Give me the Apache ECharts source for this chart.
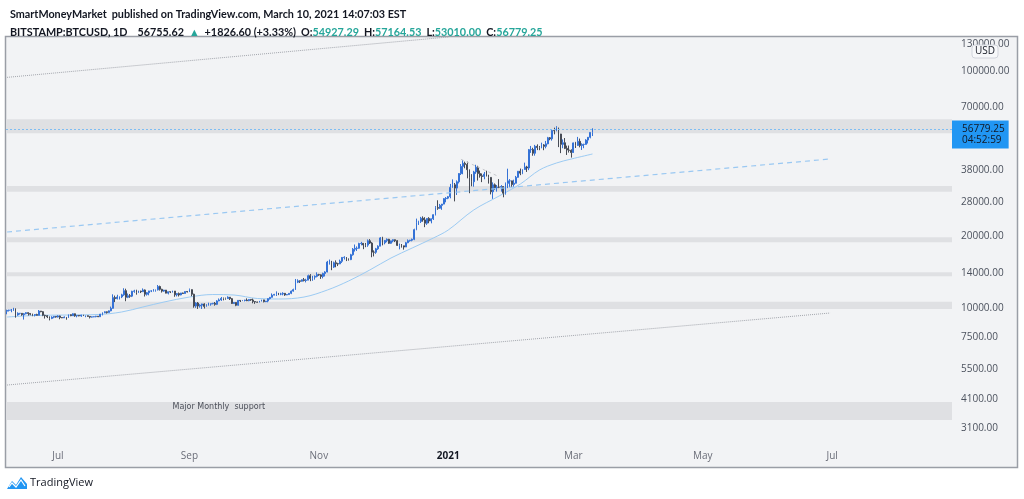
<!DOCTYPE html>
<html><head><meta charset="utf-8">
<script src="https://cdn.jsdelivr.net/npm/echarts/dist/echarts.min.js"></script>
<style>html,body{margin:0;padding:0;background:#fff}#c{width:1024px;height:499px}</style>
</head><body><div id="c"></div><script>
// ---------- DATA ----------
const startDate = '2020-06-07';
const axisDays = 446;          // time axis runs to 2021-08-26
const firstOpen = 9670;
const closes = [
 // Jun 7-30
 9750,9775,9780,9880,9320,9470,9470,9340,9430,9530,9460,9390,9300,9360,9290,9680,9620,9290,9250,9160,9010,9120,9190,9135,
 // Jul
 9230,9090,9060,9130,9080,9340,9250,9430,9240,9280,9230,9300,9240,9250,9190,9130,9150,9170,9210,9160,9390,9530,9610,9550,9700,9940,11030,10920,11100,11110,11330,
 // Aug
 11800,11070,11230,11190,11730,11770,11600,11750,11680,11880,11400,11570,11770,11770,11860,11900,12290,11960,11750,11870,11520,11680,11650,11760,11340,11470,11320,11540,11480,11710,11660,
 // Sep
 11920,11400,10170,10470,10170,10250,10370,10130,10240,10360,10400,10440,10330,10680,10790,10950,10940,10930,11080,10920,10420,10530,10240,10740,10690,10730,10770,10700,10840,10780,
 // Oct
 10620,10570,10550,10670,10790,10600,10670,10920,11060,11300,11380,11540,11420,11430,11500,11320,11360,11500,11750,11920,12820,12980,12930,13120,13030,13070,13650,13280,13460,13560,13800,
 // Nov
 13760,13550,13950,14150,15590,15590,14840,15480,15330,15300,15700,16300,16320,16070,15960,16730,17660,17800,17820,18660,18700,18400,18370,19160,18740,17160,17140,17720,18180,19700,
 // Dec
 18790,19220,19450,18700,19150,19360,19170,18320,18550,18250,18030,18800,19170,19270,19440,21350,22800,23120,23850,23470,22720,23810,23230,23730,24690,26450,26280,27030,27360,28860,28990,
 // Jan
 29410,32190,33000,31970,33980,36820,39470,40670,40240,38240,35540,34010,37390,39160,36830,36020,35790,36630,35890,35470,30850,33000,32100,32290,32260,32470,30430,33470,34300,34300,33110,
 // Feb
 33520,35500,37660,36970,38290,39250,38870,46450,46500,44850,48000,47400,47190,48620,47960,49140,52120,51600,55900,55890,57410,54080,48890,49680,47020,46280,46140,45160,
 // Mar 1-10
 49600,48400,50370,48360,48860,48880,50970,52380,54927,56779.25
];
const highs = [
 9800,9800,9880,9990,9940,9560,9490,9490,9500,9580,9560,9480,9440,9400,9430,9780,9690,9670,9340,9300,9190,9200,9230,9200,
 9290,9260,9120,9190,9140,9360,9370,9470,9450,9300,9290,9340,9340,9280,9270,9200,9180,9200,9240,9220,9420,9550,9650,9640,9730,10110,11390,11250,11340,11170,11450,
 12080,12030,11480,11420,11790,11900,11910,11800,11800,12060,11940,11640,11790,11850,11980,11930,12470,12390,12020,11890,11880,11700,11700,11800,11760,11530,11590,11550,11580,11720,11760,
 12050,11950,11460,10550,10570,10350,10400,10440,10350,10500,10400,10480,10570,10760,10940,11100,11040,11030,11170,11090,10990,10570,10540,10770,10770,10780,10800,10950,10860,10850,
 10920,10640,10600,10690,10800,10800,10680,10950,11100,11490,11440,11720,11550,11560,11620,11540,11400,11530,11820,12030,13220,13180,13030,13160,13350,13250,13790,13860,13630,13690,14100,
 13900,13830,14050,14250,15760,15970,15770,15650,15840,15460,15960,16350,16480,16330,16150,16880,17850,18480,18140,18800,18960,18740,18760,19410,19480,18910,17460,17880,18340,19860,
 19920,19300,19600,19520,19170,19420,19400,19290,18640,18560,18270,18950,19410,19340,19570,21550,23770,23280,24170,24290,24100,23830,24100,23780,24770,26840,28400,27400,27410,28990,29300,
 29620,33300,34800,33600,34450,36950,40370,41950,41350,41350,38300,36600,37800,40100,39700,37900,36850,37400,37850,36400,35600,33800,33450,32930,34880,32900,32560,33770,38600,34890,34330,
 34680,35980,37700,38650,38310,40940,39700,46750,48150,47310,48650,48900,48140,49700,49000,50550,52580,52500,56300,57500,58350,57500,54150,51300,52000,48300,48330,46580,
 49770,50100,52560,51730,49400,49200,51400,52400,54950,57164.53
];
const lows = [
 9380,9640,9570,9700,9080,9250,9350,9250,8910,9380,9260,9290,9210,9190,9270,9280,9570,9210,9000,9040,8840,8950,9030,9080,
 9090,8940,9040,9050,8900,9060,9210,9230,9160,9110,9200,9150,9220,9120,9170,9010,9090,9120,9110,9130,9150,9280,9480,9450,9530,9660,9910,10560,10840,10830,10980,
 11220,10650,10970,11010,11090,11560,11350,11530,11530,11660,11150,11250,11280,11640,11690,11690,11820,11810,11590,11670,11500,11380,11530,11590,11120,11160,11150,11280,11430,11460,11600,
 11640,11180,10000,9990,9880,10010,9880,9920,10110,10200,10200,10330,10200,10260,10650,10690,10740,10810,10890,10780,10370,10370,10150,10200,10570,10660,10630,10660,10650,10690,
 10440,10380,10500,10530,10620,10530,10560,10540,10830,11050,11280,11210,11300,11290,11280,11220,11300,11340,11410,11690,11900,12700,12720,12880,12910,12790,13070,12940,12990,13130,13430,
 13630,13230,13300,13550,14100,15200,14400,14710,14810,14990,15280,15450,15970,15730,15800,15880,16580,17260,17360,17750,18330,17660,18000,18070,18580,16330,16460,16880,17540,18180,
 18330,18510,18900,18580,18600,18880,18920,18220,17630,17930,17580,18030,18720,19000,19060,19280,21230,22350,22770,23060,21870,22350,22720,22700,23460,24500,25880,26120,25880,27320,27850,
 28700,28950,32020,28100,29900,33450,36300,36570,38750,35150,30420,32530,32400,36720,34400,35380,33880,34830,35800,33400,30070,28800,31400,30900,31950,30880,29240,30000,31960,32230,32300,
 32300,33420,35380,36250,36600,38200,37400,38060,45000,43780,43800,46250,46200,47050,46200,47050,48950,50900,50700,53900,55500,47600,44900,47100,46700,44100,45140,43000,
 45000,47200,48120,47500,46300,47100,48950,49300,51850,53010
];
// moving average
const maDates  = ['2020-06-07','2020-06-20','2020-07-05','2020-07-20','2020-07-31','2020-08-10','2020-08-20','2020-09-01','2020-09-12','2020-09-22','2020-10-03','2020-10-13','2020-10-25','2020-11-05','2020-11-15','2020-11-25','2020-12-05','2020-12-15','2020-12-25','2021-01-01','2021-01-13','2021-01-25','2021-02-04','2021-02-13','2021-02-21','2021-02-28','2021-03-10'];
const maValues = [9137,9271,9315,9361,9592,10068,10568,11093,11368,11313,10935,10882,11093,11876,12963,14424,16205,17862,19683,21277,25840,29606,33264,38107,40784,42405,44523];
const yTicks = [3100,4100,5500,7500,10000,14000,20000,28000,38000,70000,100000,130000];
const yMin = 2584, yMax = 138760;
const zones = [[54440,62370],[30860,32620],[18870,19820],[13570,14110],[9875,10600],[3360,4000]];
const zoneNote = {date:'2020-08-24', value:3811, text:'Major Monthly  support'};
const grayRays = [[['2020-06-07',93750],['2021-01-01',138760]], [['2020-06-07',4718],['2021-06-30',9497]]];
const blueRay = [['2020-06-07',20870],['2021-06-30',42410]];
const janLine = [['2021-01-07',42290],['2021-01-25',35700]];
const lastPrice = 56779.25, labelAnchor = 53810, countdown = '04:52:59';
const monthNames = ['Jan','Feb','Mar','Apr','May','Jun','Jul','Aug','Sep','Oct','Nov','Dec'];

// ---------- BUILD ----------
const cats = [];
const d0 = new Date(startDate + 'T00:00:00Z');
for (let i = 0; i < axisDays; i++) cats.push(new Date(d0.getTime() + i * 86400000).toISOString().slice(0, 10));
const ohlc = closes.map((c, i) => [i === 0 ? firstOpen : closes[i - 1], c, lows[i], highs[i]]);
const ma = cats.map(() => null);
maDates.forEach((d, i) => { ma[cats.indexOf(d)] = maValues[i]; });

const FONT = 'Open Sans';
const HFONT = 'Lato';
const HSIZE = 10.8;
const chart = echarts.init(document.getElementById('c'), null, {renderer: 'canvas'});
chart.setOption({
  animation: false,
  backgroundColor: '#ffffff',
  title: {
    left: 5, top: 1,
    text: '{b|SmartMoneyMarket} {n|published on TradingView.com, March 10, 2021 14:07:03 EST}\n' +
          '{b|BITSTAMP:BTCUSD, 1D}  {n|56755.62} {g|▲} {n|+1826.60 (+3.33%)} {b|O:}{g|54927.29} {b|H:}{g|57164.53} {b|L:}{g|53010.00} {b|C:}{g|56779.25}',
    textStyle: {
      rich: {
        b: {fontFamily: HFONT, fontSize: HSIZE, fontWeight: 'bold', color: '#131722', lineHeight: 15},
        n: {fontFamily: HFONT, fontSize: HSIZE, color: '#131722', lineHeight: 15},
        g: {fontFamily: HFONT, fontSize: HSIZE, color: '#26a69a', lineHeight: 15}
      }
    }
  },
  graphic: [
    {type: 'rect', z: -10, silent: true, shape: {x: 5.5, y: 36.5, width: 1012, height: 431},
     style: {fill: '#f2f3f5', stroke: '#9a9ea6', lineWidth: 1.5}},
    {type: 'rect', z: 100, shape: {x: 972, y: 45, width: 26, height: 13, r: 3},
     style: {fill: '#f7f8fa', stroke: '#d1d4dc', lineWidth: 1}},
    {type: 'text', z: 101, x: 985, y: 51.5, style: {text: 'USD', fontFamily: FONT, fontSize: 10, fill: '#131722', align: 'center', verticalAlign: 'middle'}},
    {type: 'polygon', shape: {points: [[7,489],[12,481],[16,485],[21,477],[27,484],[27,489]]}, style: {fill: '#2196f3'}},
    {type: 'polyline', shape: {points: [[9,487],[12,483],[16,487],[21,480],[25,486]]}, style: {stroke: '#ffffff', lineWidth: 1.2, fill: null}},
    {type: 'text', x: 30, y: 483, style: {text: 'TradingView', fontFamily: FONT, fontSize: 11, fill: '#131722', verticalAlign: 'middle'}}
  ],
  grid: {left: 6, right: 72, top: 37, bottom: 52},
  xAxis: {
    type: 'category', data: cats, boundaryGap: true,
    axisLine: {show: false}, axisTick: {show: false}, splitLine: {show: false},
    axisLabel: {
      margin: 4, color: '#6a6d78', fontFamily: FONT, fontSize: 10,
      interval: (i, v) => v.slice(8) === '01' && (parseInt(v.slice(5, 7), 10) % 2 === 1),
      formatter: v => { const m = parseInt(v.slice(5, 7), 10); return m === 1 ? '{y|' + v.slice(0, 4) + '}' : monthNames[m - 1]; },
      rich: {y: {fontWeight: 'bold', color: '#131722', fontFamily: FONT, fontSize: 10}}
    }
  },
  yAxis: {
    type: 'log', logBase: 10, position: 'right', min: yMin, max: yMax,
    axisLine: {show: false}, axisTick: {show: false}, splitLine: {show: false},
    axisLabel: {customValues: yTicks, margin: 9, align: 'left', color: '#4c525e', fontFamily: FONT, fontSize: 10,
      formatter: v => Number(v).toFixed(2)}
  },
  series: [
    {
      type: 'candlestick', data: ohlc, barWidth: '62%', clip: true,
      itemStyle: {color: '#3572d6', color0: '#474b55', borderColor: '#3572d6', borderColor0: '#474b55', borderWidth: 1},
      markArea: {silent: true, itemStyle: {color: '#dfe0e3'}, data: zones.map(z => [{yAxis: z[0]}, {yAxis: z[1]}])},
      markPoint: {
        silent: true,
        data: [{coord: [zoneNote.date, zoneNote.value], symbol: 'rect', symbolSize: 0,
          label: {show: true, position: 'right', distance: 0, formatter: zoneNote.text, color: '#4c4f59', fontFamily: 'DejaVu Sans', fontSize: 8}}]
      },
      markLine: {
        silent: true, symbol: ['none', 'none'], label: {show: false},
        data: [
          [{coord: grayRays[0][0]}, {coord: grayRays[0][1], lineStyle: {color: '#a3a6ad', type: 'dotted', width: 1}}],
          [{coord: grayRays[1][0]}, {coord: grayRays[1][1], lineStyle: {color: '#a3a6ad', type: 'dotted', width: 1}}],
          [{coord: blueRay[0]}, {coord: blueRay[1], lineStyle: {color: '#9ac8f2', type: [5, 4], width: 1.2}}],
          [{coord: janLine[0]}, {coord: janLine[1], lineStyle: {color: '#c5c7cc', type: [3, 3], width: 1}}],
          {yAxis: lastPrice, lineStyle: {color: '#7fbdf2', type: [2, 2], width: 1}},
          {yAxis: labelAnchor, lineStyle: {color: 'rgba(0,0,0,0)', width: 1},
           label: {show: true, position: 'end', distance: 0, formatter: lastPrice.toFixed(2) + '\n' + countdown,
             backgroundColor: '#2196f3', color: '#131722', fontFamily: FONT, fontSize: 10, lineHeight: 11, padding: [3, 4, 3, 10]}}
        ]
      }
    },
    {
      type: 'line', data: ma, connectNulls: true, smooth: 0.35, showSymbol: false, silent: true,
      lineStyle: {color: '#9ccbf3', width: 1}, z: 1
    }
  ]
});
</script></body></html>
